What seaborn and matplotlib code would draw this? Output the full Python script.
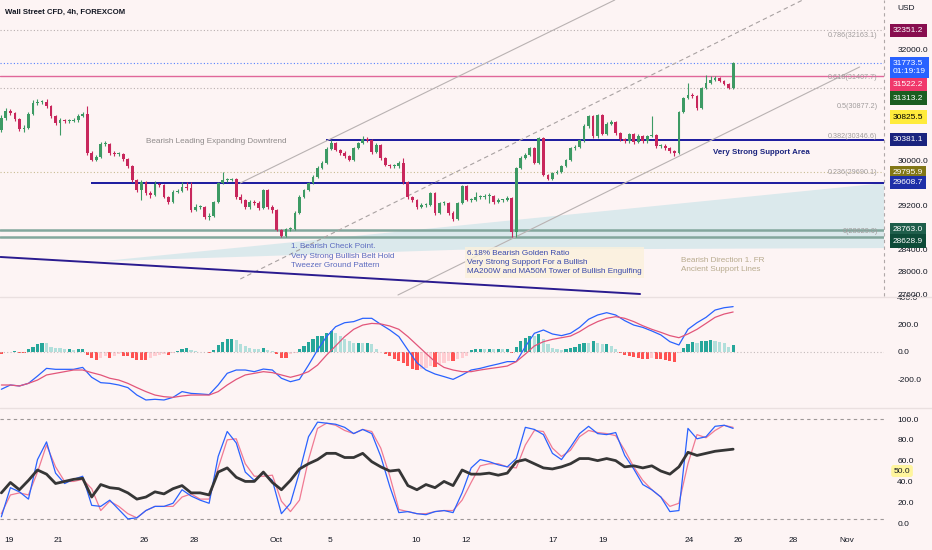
import matplotlib
matplotlib.use("Agg")
import matplotlib.pyplot as plt
from matplotlib.lines import Line2D
import seaborn as sns
import numpy as np
import pandas as pd

# ---------------- values ----------------
date_labels = ['19', '21', '26', '28', 'Oct', '5', '10', '12', '17', '19', '24', '26', '28', 'Nov']
date_bars = [1.8, 12.6, 31.6, 42.7, 60.8, 72.8, 91.8, 102.9, 122.1, 133.2, 152.2, 163.1, 175.2, 187.2]

first_open = 30557
closes = [30774, 30900, 30864, 30756, 30575, 30593, 30846, 31044, 31062, 31062,
          30990, 30810, 30684, 30738, 30720, 30720, 30738, 30810, 30846, 30143,
          30017, 30071, 30305, 30305, 30143, 30125, 30125, 30035, 29909, 29656,
          29476, 29620, 29422, 29386, 29584, 29566, 29350, 29260, 29440, 29458,
          29530, 29512, 29116, 29170, 29170, 28990, 29008, 29260, 29602, 29656,
          29656, 29674, 29350, 29296, 29170, 29260, 29242, 29152, 29476, 29170,
          29116, 28755, 28647, 28773, 28773, 29062, 29350, 29476, 29602, 29711,
          29873, 29963, 30215, 30323, 30197, 30143, 30089, 30017, 30233, 30323,
          30395, 30377, 30161, 30287, 30053, 29927, 29909, 29909, 29963, 29620,
          29350, 29296, 29170, 29206, 29206, 29422, 29062, 29242, 29242, 29062,
          28954, 29242, 29548, 29296, 29296, 29350, 29350, 29368, 29368, 29260,
          29296, 29296, 29332, 28719, 29873, 30053, 30107, 30233, 29963, 30413,
          29747, 29674, 29783, 29801, 29909, 30017, 30233, 30251, 30377, 30629,
          30810, 30449, 30828, 30485, 30666, 30702, 30503, 30395, 30359, 30485,
          30341, 30449, 30359, 30449, 30467, 30269, 30269, 30233, 30179, 30143,
          30882, 31134, 31188, 31170, 30954, 31314, 31404, 31458, 31494, 31440,
          31386, 31314, 31773.5]
highs = [30830, 30950, 30930, 30890, 30780, 30640, 30880, 31090, 31120, 31100,
         31120, 31010, 30830, 30770, 30760, 30750, 30770, 30840, 30880, 30990,
         30170, 30100, 30340, 30360, 30330, 30180, 30160, 30150, 30060, 29930,
         29680, 29650, 29640, 29450, 29640, 29610, 29590, 29370, 29470, 29500,
         29620, 29620, 29620, 29220, 29210, 29190, 29060, 29280, 29620, 29800,
         29690, 29700, 29700, 29400, 29320, 29300, 29290, 29270, 29490, 29490,
         29200, 29130, 28780, 28800, 28810, 29090, 29380, 29500, 29620, 29740,
         29900, 30000, 30250, 30370, 30340, 30220, 30170, 30110, 30260, 30350,
         30449, 30440, 30400, 30320, 30310, 30070, 29950, 29950, 29990, 30053,
         29640, 29370, 29320, 29240, 29240, 29440, 29440, 29260, 29280, 29260,
         29090, 29260, 29570, 29560, 29330, 29440, 29380, 29400, 29420, 29390,
         29330, 29320, 29360, 29350, 29890, 30080, 30140, 30260, 30260, 30430,
         30430, 29770, 29800, 29830, 29930, 30040, 30260, 30280, 30400, 30660,
         30830, 30830, 30850, 30850, 30700, 30740, 30720, 30520, 30420, 30510,
         30500, 30480, 30470, 30470, 30810, 30490, 30300, 30300, 30250, 30200,
         30900, 31160, 31404, 31220, 31190, 31340, 31549, 31530, 31530, 31510,
         31460, 31400, 31790]
lows = [30520, 30740, 30830, 30720, 30540, 30520, 30570, 30820, 31010, 31030,
        30960, 30780, 30650, 30467, 30690, 30690, 30700, 30710, 30790, 30110,
        29990, 29990, 30050, 30270, 30110, 30090, 30090, 30000, 29880, 29620,
        29440, 29300, 29390, 29340, 29360, 29530, 29330, 29220, 29240, 29420,
        29440, 29480, 29080, 29090, 29130, 28960, 28940, 28990, 29240, 29580,
        29620, 29630, 29320, 29250, 29130, 29140, 29200, 29110, 29130, 29140,
        29070, 28730, 28629, 28629, 28740, 28750, 29040, 29330, 29450, 29580,
        29690, 29850, 29940, 30190, 30170, 30110, 30060, 29990, 30000, 30210,
        30300, 30350, 30130, 30140, 30020, 29900, 29880, 29880, 29880, 29590,
        29320, 29260, 29140, 29150, 29170, 29180, 29030, 29040, 29210, 29030,
        28920, 28940, 29220, 29270, 29260, 29270, 29320, 29310, 29250, 29230,
        29240, 29260, 29270, 28629, 28629, 29850, 30030, 30080, 29940, 29940,
        29720, 29650, 29650, 29760, 29780, 29890, 29990, 30200, 30230, 30350,
        30600, 30420, 30420, 30460, 30460, 30640, 30470, 30360, 30330, 30330,
        30310, 30320, 30330, 30330, 30430, 30240, 30230, 30200, 30140, 30089,
        30120, 30860, 31110, 31140, 30920, 30930, 31290, 31380, 31440, 31420,
        31360, 31290, 31300]

macd_hist = [-15, 0, 0, 5, -5, -5, 20, 38, 55, 67,
             62, 38, 31, 27, 20, 20, 14, 24, 24, -24,
             -41, -60, -41, -29, -41, -29, -17, -29, -29, -41,
             -60, -60, -60, -41, -29, -24, -17, -24, -5, 7,
             20, 31, 12, 7, 3, 0, -5, 12, 48, 74,
             91, 96, 84, 55, 43, 31, 24, 20, 29, 14,
             7, -17, -41, -41, -17, -5, 20, 43, 72, 91,
             115, 120, 139, 152, 139, 115, 96, 79, 67, 67,
             62, 62, 55, 20, 0, -17, -29, -53, -65, -82,
             -101, -120, -133, -125, -113, -101, -106, -89, -77, -65,
             -65, -53, -41, -30, 12, 20, 24, 20, 24, 20,
             24, 20, 24, -10, 38, 80, 104, 120, 116, 128,
             91, 55, 31, 20, 14, 24, 31, 38, 55, 67,
             62, 79, 62, 55, 55, 43, 20, -10, -24, -29,
             -34, -41, -48, -48, -45, -48, -53, -60, -65, -72,
             -10, 31, 55, 72, 67, 79, 79, 84, 79, 72,
             62, 38, 48]

# oscillator lines read every second bar
osc_bars = list(range(0, 163, 2))
macd_line = [-271, -240, -247, -228, -175, -119, -126, -126, -126, -112,
             -184, -223, -228, -240, -259, -313, -349, -344, -349, -330,
             -288, -301, -305, -310, -240, -155, -131, -131, -143, -124,
             -131, -191, -216, -199, -95, 15, 112, 184, 213, 221,
             245, 245, 201, 160, 112, 15, -78, -131, -160, -179,
             -199, -167, -131, -119, -102, -87, -70, -70, 39, 136,
             160, 131, 119, 136, 179, 238, 269, 286, 269, 228,
             196, 179, 153, 124, 75, 51, 165, 213, 252, 305,
             322, 330]
macd_signal = [-240, -240, -247, -228, -204, -167, -155, -143, -131, -131,
               -150, -167, -191, -204, -228, -259, -288, -313, -325, -330,
               -320, -313, -313, -313, -288, -240, -199, -167, -155, -143,
               -150, -167, -184, -167, -143, -95, -22, 44, 112, 165,
               196, 208, 204, 189, 165, 112, 51, -10, -70, -112,
               -131, -143, -143, -131, -121, -112, -102, -70, -15, 44,
               75, 92, 104, 116, 148, 189, 221, 245, 257, 245,
               221, 191, 165, 143, 119, 104, 131, 165, 208, 252,
               276, 291]
stoch_k = [6, 34, 30, 23, 61, 78, 48, 38, 42, 45,
           17, 16, 22, 13, 4, 5, 12, 16, 16, 19,
           32, 26, 22, 19, 64, 88, 77, 49, 41, 48,
           41, 9, 19, 49, 83, 97, 96, 95, 92, 86,
           90, 86, 64, 35, 10, 11, 9, 8, 11, 12,
           10, 29, 53, 61, 59, 56, 54, 62, 92, 90,
           85, 67, 61, 73, 86, 93, 86, 85, 87, 65,
           52, 37, 32, 25, 11, 12, 91, 81, 83, 93,
           94, 91]
stoch_d = [9, 27, 29, 27, 49, 75, 54, 40, 40, 42,
           33, 12, 21, 16, 9, 5, 12, 16, 16, 16,
           25, 28, 23, 23, 53, 80, 81, 57, 45, 45,
           46, 21, 11, 22, 61, 91, 96, 94, 89, 86,
           90, 88, 72, 45, 13, 11, 9, 9, 11, 12,
           12, 22, 39, 55, 57, 57, 54, 53, 75, 89,
           88, 72, 64, 70, 83, 89, 87, 86, 84, 70,
           54, 41, 32, 25, 16, 19, 57, 85, 82, 89,
           94, 92]
rsi_line = [29, 39, 32, 41, 51, 47, 38, 40, 42, 43,
            25, 37, 34, 33, 29, 23, 25, 30, 28, 33,
            36, 29, 29, 27, 49, 53, 44, 40, 40, 49,
            39, 32, 41, 52, 57, 61, 67, 67, 63, 63,
            67, 59, 54, 50, 51, 36, 32, 37, 34, 40,
            36, 51, 47, 47, 48, 46, 48, 59, 61, 57,
            53, 52, 54, 57, 62, 62, 60, 62, 60, 54,
            55, 53, 55, 50, 47, 54, 68, 65, 67, 69,
            70, 71]

level_prices = [32351.2, 31773.5, 31522.2, 31313.2, 30825.5, 30381.1, 29795.9, 29608.7, 28763.0, 28628.9]
level_texts = ['32351.2', '31773.5\n01:19:19', '31522.2', '31313.2', '30825.5',
               '30381.1', '29795.9', '29608.7', '28763.0', '28628.9']
fib_ratios = [0.786, 0.618, 0.5, 0.382, 0.236, 0]
fib_prices = [32163.1, 31407.7, 30877.2, 30346.6, 29690.1, 28629.0]

# price scale labels that are not hidden behind the level boxes
price_ticks = [27600, 28000, 28400, 29200, 30000, 32000]
macd_ticks = [-200, 0, 200, 400]
osc_ticks = [0, 20, 40, 60, 80, 100]
osc_bands = [100, 4]

# hand drawn objects on the chart: (bar index, price)
upper_channel = ([52.9, 135.8], [29602, 32900])
mid_channel = ([52.9, 177.4], [27872, 32900])
lower_channel = ([87.8, 190.0], [27584, 31693])
long_support = ([-0.2, 141.4], [28269, 27602])
wedge_bars = [22.0, 195.4, 195.4, 101.5]
wedge_prices = [28190, 29600, 28430, 28400]
support_hi_start = 71.9   # 30381.1 line
support_lo_start = 19.9   # 29608.7 line

# ---------------- style ----------------
BG = '#FDF4F4'
UP, DOWN = '#3D9A64', '#C8275C'
TXT = '#131722'
W, H = 932, 550
XMAX = 195.4
AXFS = 6.0   # price-scale font size
NOTEFS = 5.9 # drawing-note font size

sns.set_theme(style='white', rc={'axes.facecolor': BG, 'figure.facecolor': BG})
plt.rcParams['font.family'] = ['Liberation Sans', 'DejaVu Sans']

fig = plt.figure(figsize=(W / 100, H / 100), dpi=100)


def px_axes(top, bottom, right=884):
    return fig.add_axes([0, 1 - bottom / H, right / W, (bottom - top) / H])


ax_p = px_axes(0, 296)
ax_m = px_axes(297, 407)
ax_s = px_axes(408, 530)

for ax in (ax_p, ax_m, ax_s):
    ax.set_xlim(-0.3, XMAX)
    for s in ax.spines.values():
        s.set_visible(False)
    ax.yaxis.tick_right()
    ax.tick_params(axis='y', length=0, labelsize=AXFS, labelcolor=TXT, pad=9.5)
    ax.tick_params(axis='x', length=0)
    ax.set_xticks([])

# ---------------- price pane ----------------
df = pd.DataFrame({'open': [first_open] + closes[:-1], 'high': highs, 'low': lows, 'close': closes})
df['bar'] = np.arange(len(df))
col = np.where(df['close'] >= df['open'], UP, DOWN)

ax_p.fill(wedge_bars, wedge_prices, color='#BFE0E6', alpha=0.55, lw=0, zorder=1)

ax_p.axhline(level_prices[0], color='#B8AFAF', lw=0.8, ls=(0, (1, 2)))
ax_p.axhline(level_prices[1], color='#2962FF', lw=0.8, ls=(0, (1, 2)), alpha=0.8)
ax_p.axhline(level_prices[2], color='#E0679A', lw=1.0)
ax_p.axhline(level_prices[3], color='#B8AFAF', lw=0.8, ls=(0, (1, 2)))
ax_p.axhline(level_prices[6], color='#C9BC93', lw=0.8, ls=(0, (1, 2)))
ax_p.hlines(level_prices[5], support_hi_start, XMAX, color='#1A1A9E', lw=1.4)
ax_p.hlines(level_prices[7], support_lo_start, XMAX, color='#1A1A9E', lw=1.4)
ax_p.axhline(level_prices[8], color='#83A79D', lw=1.8)
ax_p.axhline(level_prices[9], color='#83A79D', lw=1.8)

ax_p.plot(*upper_channel, color='#B9B2B2', lw=0.8)
ax_p.plot(*mid_channel, color='#A9A2A2', lw=0.8, ls=(0, (4, 3)))
ax_p.plot(*lower_channel, color='#B9B2B2', lw=0.8)
ax_p.plot(*long_support, color='#2A1B8F', lw=1.4)

ax_p.vlines(df['bar'], df['low'], df['high'], colors=col, lw=0.8, zorder=3)
body_lo = df[['open', 'close']].min(axis=1)
body_h = (df['close'] - df['open']).abs().clip(lower=10)
ax_p.bar(df['bar'], body_h, bottom=body_lo, width=0.62, color=col, lw=0, zorder=4)

ax_p.set_ylim(27566, 32900)
ax_p.set_yticks(price_ticks, [f'{v:.1f}' for v in price_ticks])

for r, p in zip(fib_ratios, fib_prices):
    ax_p.annotate(f'{r}({p:.1f})', xy=(194.0, p), xytext=(0, 1.5), textcoords='offset points',
                  ha='right', va='bottom', fontsize=5.2, color='#A09C9C')

box_colors = ['#880E4F', '#2962FF', '#F0386B', '#1B5E20', '#FFEB3B',
              '#1A237E', '#827717', '#1E2FA8', '#1F5E4B', '#0E4B38']
box_nudge = [0, 5, 8, 10, 2, 0, 0, 0, 0, 4]
for p, t, c, n in zip(level_prices, level_texts, box_colors, box_nudge):
    ax_p.annotate(t, xy=(1, p), xycoords=('axes fraction', 'data'),
                  xytext=(6.5, -n * 0.72), textcoords='offset points', ha='left', va='center',
                  fontsize=AXFS, color='black' if c == '#FFEB3B' else 'white', linespacing=1.15,
                  bbox=dict(boxstyle='square,pad=0.38', fc=c, ec='none'),
                  annotation_clip=False, zorder=6)

ax_p.text(32.1, 30359, 'Bearish Leading Expanding Downtrend', fontsize=NOTEFS,
          color='#8F8B8B', va='center')
ax_p.text(157.5, 30143, 'Very Strong Support Area', fontsize=5.7, color='#1A237E',
          va='center', fontweight='bold')
ax_p.text(64.2, 28521, '1. Bearish Check Point.\nVery Strong Bullish Belt Hold\nTweezer Ground Pattern',
          fontsize=NOTEFS, color='#5C6BC0', va='top', linespacing=1.5)
ax_p.text(103.1, 28400, '6.18% Bearish Golden Ratio\nVery Strong Support For a Bullish\n'
          'MA200W and MA50M Tower of Bullish Engulfing', fontsize=NOTEFS, color='#3949AB',
          va='top', linespacing=1.45, bbox=dict(boxstyle='square,pad=0.3', fc='#FBF1DC', ec='none', alpha=0.8))
ax_p.text(150.4, 28269, 'Bearish Direction 1. FR\nAncient Support Lines', fontsize=NOTEFS,
          color='#B8AB8E', va='top', linespacing=1.5)

# ---------------- MACD pane ----------------
hist = pd.Series(macd_hist, dtype=float)
prev = hist.shift(1).fillna(0)
hist_col = np.where(hist >= 0, np.where(hist >= prev, '#26A69A', '#B2DFDB'),
                    np.where(hist <= prev, '#FF5252', '#FFCDD2'))
ax_m.bar(np.arange(len(hist)), hist, width=0.7, color=hist_col, lw=0)
ax_m.axhline(0, color='#C4BBBB', lw=0.8, ls=(0, (1, 2)))
sns.lineplot(x=osc_bars, y=macd_line, ax=ax_m, color='#2962FF', lw=0.9)
sns.lineplot(x=osc_bars, y=macd_signal, ax=ax_m, color='#E2557A', lw=0.9)
ax_m.set_ylim(-400, 400)
ax_m.set_yticks(macd_ticks, [f'{v:.1f}' for v in macd_ticks])

# ---------------- Stoch RSI / RSI pane ----------------
for b in osc_bands:
    ax_s.axhline(b, color='#9E9898', lw=0.8, ls=(0, (3, 3)))
sns.lineplot(x=osc_bars, y=stoch_d, ax=ax_s, color='#F07A93', lw=0.9)
sns.lineplot(x=osc_bars, y=stoch_k, ax=ax_s, color='#2962FF', lw=0.9)
sns.lineplot(x=osc_bars, y=rsi_line, ax=ax_s, color='#363636', lw=2.0)
ax_s.set_ylim(-6.7, 110.6)
ax_s.set_yticks(osc_ticks, [f'{v:.1f}' for v in osc_ticks])
ax_s.annotate('50.0', xy=(1, 50), xycoords=('axes fraction', 'data'), xytext=(7, 0),
              textcoords='offset points', ha='left', va='center', fontsize=AXFS, color=TXT,
              bbox=dict(boxstyle='round,pad=0.3', fc='#FFF59D', ec='none'), annotation_clip=False)
ax_s.set_xticks(date_bars, date_labels)
ax_s.tick_params(axis='x', labelsize=AXFS, labelcolor=TXT, pad=5)

for ax in (ax_p, ax_m, ax_s):
    ax.set_xlabel('')
    ax.set_ylabel('')

# ---------------- frame details ----------------
fig.text(5 / W, 1 - 12 / H, 'Wall Street CFD, 4h, FOREXCOM', fontsize=5.6, color=TXT,
         fontweight='bold', va='center')
fig.text(897 / W, 1 - 9 / H, 'USD', fontsize=AXFS, color=TXT, va='center')
fig.add_artist(Line2D([884 / W, 884 / W], [1 - 296 / H, 1], color='#B0A8A8', lw=0.8, ls=(0, (3, 3))))
for y in (296.5, 407.5):
    fig.add_artist(Line2D([0, 1], [1 - y / H, 1 - y / H], color='#EAE0E0', lw=1))

fig.savefig('out.png', dpi=100, facecolor=BG)
